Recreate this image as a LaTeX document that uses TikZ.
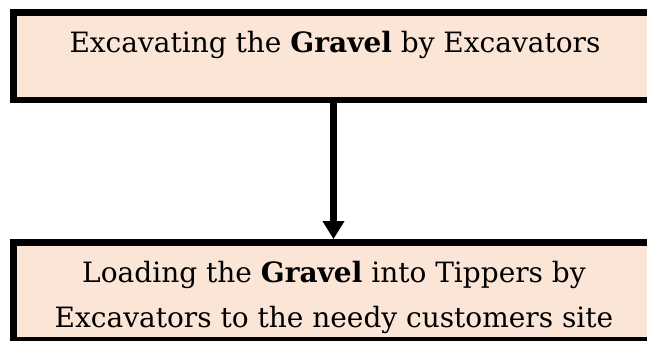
\documentclass[tikz,border=0pt]{standalone}
\usepackage{fontspec}
\setmainfont{DejaVu Serif}
\usetikzlibrary{arrows.meta}
\definecolor{peach}{HTML}{FBE5D6}
\begin{document}
\begin{tikzpicture}[x=0.75pt,y=-0.75pt,
 box/.style={draw=black,fill=peach,line width=5pt,inner sep=0pt,minimum width=640*0.75pt},
 lbl/.style={anchor=base,font=\fontsize{21}{24}\selectfont,inner sep=0pt},
 flow/.style={line width=5pt,-{Triangle[width=15.5pt,length=13.5pt]}}]
\useasboundingbox (0,0) rectangle (647,341);
\node[box,minimum height=87.5*0.75pt] (top) at (333.5,56.25) {};
\node[box,minimum height=98*0.75pt] (bot) at (333.5,291.5) {};
\node[lbl] (t1) at (335,53) {Excavating the \textbf{Gravel} by Excavators};
\node[lbl] (b1) at (334,283) {Loading the \textbf{Gravel} into Tippers by};
\node[lbl] (b2) at (334,328) {Excavators to the needy customers site};
\draw[flow] (top) -- (bot);
\end{tikzpicture}
\end{document}
